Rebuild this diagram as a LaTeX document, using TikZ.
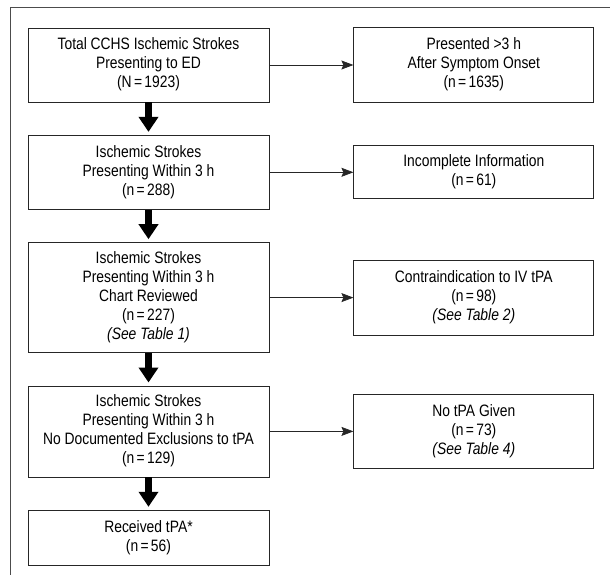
\documentclass[tikz,border=0pt]{standalone}
\usepackage{xcolor}
\usepackage{graphicx}
\usepackage{fontspec}
\setmainfont{Liberation Sans}
\usepackage{tikz}
\usetikzlibrary{shapes,arrows.meta,positioning}

% condensed centred lines
\newcommand{\cond}[1]{\scalebox{0.84}[1]{\begin{tabular}{@{}c@{}}#1\end{tabular}}}

\begin{document}
\begin{tikzpicture}[x=1pt, y=1pt, node distance=32.5pt and 84pt, >={Stealth[length=12pt,width=9pt,inset=2pt]}, font=\fontsize{16.5}{19}\selectfont]
                    % Define styles
                    \tikzstyle{leftbox} = [rectangle, draw=black!85, line width=0.8pt, minimum width=241pt, inner sep=0pt]
                    \tikzstyle{sidebox} = [rectangle, draw=black!85, line width=0.8pt, minimum width=240pt, inner sep=0pt]
                    \tikzstyle{line} = [draw, ->, line width=0.7pt, black!85]
                    \tikzstyle{bigarrow} = [draw, -{Triangle[width=19pt,length=15pt]}, line width=7pt, shorten >=3pt]

                    \useasboundingbox (0,0) rectangle (610,-575);
                    \draw [black!70, line width=0.8pt] (10,-590) |- (625,-7);

                    % Nodes
                    \node [leftbox, minimum height=74pt] (total) at (148.5,-65) {\cond{Total CCHS Ischemic Strokes\\Presenting to ED\\(N\,=\,1923)}};
                    \node [leftbox, minimum height=74pt, below=of total] (within) {\cond{Ischemic Strokes\\Presenting Within 3 h\\(n\,=\,288)}};
                    \node [leftbox, minimum height=110pt, below=of within] (reviewed) {\cond{Ischemic Strokes\\Presenting Within 3 h\\Chart Reviewed\\(n\,=\,227)\\\textit{(See Table 1)}}};
                    \node [leftbox, minimum height=91pt, below=of reviewed] (noexcl) {\cond{Ischemic Strokes\\Presenting Within 3 h\\No Documented Exclusions to tPA\\(n\,=\,129)}};
                    \node [leftbox, minimum height=55pt, below=of noexcl] (received) {\cond{Received tPA*\\(n\,=\,56)}};

                    \node [sidebox, minimum height=75pt, right=of total] (late) {\cond{Presented >3 h\\After Symptom Onset\\(n\,=\,1635)}};
                    \node [sidebox, minimum height=53pt, right=of within] (incomplete) {\cond{Incomplete Information\\(n\,=\,61)}};
                    \node [sidebox, minimum height=75pt, right=of reviewed] (contra) {\cond{Contraindication to IV tPA\\(n\,=\,98)\\\textit{(See Table 2)}}};
                    \node [sidebox, minimum height=74pt, right=of noexcl] (notpa) {\cond{No tPA Given\\(n\,=\,73)\\\textit{(See Table 4)}}};

                    % Arrows
                    \draw [bigarrow] (total) -- (within);
                    \draw [bigarrow] (within) -- (reviewed);
                    \draw [bigarrow] (reviewed) -- (noexcl);
                    \draw [bigarrow] (noexcl) -- (received);
                    \draw [line] (total) -- (late);
                    \draw [line] (within) -- (incomplete);
                    \draw [line] (reviewed) -- (contra);
                    \draw [line] (noexcl) -- (notpa);
                \end{tikzpicture}
\end{document}
